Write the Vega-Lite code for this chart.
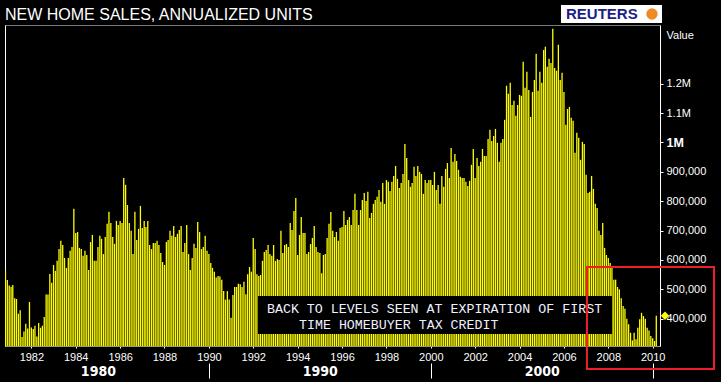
{
"$schema": "https://vega.github.io/schema/vega-lite/v6.json",
"background": "#000000",
"padding": {"left": 5, "top": 4, "right": 5, "bottom": 4},
"width": 655,
"height": 321,
"title": {"text": "NEW HOME SALES, ANNUALIZED UNITS", "anchor": "start", "frame": "group", "offset": -18, "color": "#ffffff", "font": "Liberation Sans", "fontSize": 16, "fontWeight": "normal"},
"config": {"view": {"stroke": "#7a7a7a", "strokeWidth": 1}, "axis": {"grid": false}},
"datasets": {"sales": [
{"date":"1980-11-01","sales":563000},{"date":"1980-12-01","sales":532000},
{"date":"1981-01-01","sales":513000},{"date":"1981-02-01","sales":509000},{"date":"1981-03-01","sales":515000},{"date":"1981-04-01","sales":470000},{"date":"1981-05-01","sales":467000},{"date":"1981-06-01","sales":417000},{"date":"1981-07-01","sales":429000},{"date":"1981-08-01","sales":338000},{"date":"1981-09-01","sales":356000},{"date":"1981-10-01","sales":383000},{"date":"1981-11-01","sales":367000},{"date":"1981-12-01","sales":457000},
{"date":"1982-01-01","sales":370000},{"date":"1982-02-01","sales":365000},{"date":"1982-03-01","sales":376000},{"date":"1982-04-01","sales":339000},{"date":"1982-05-01","sales":385000},{"date":"1982-06-01","sales":369000},{"date":"1982-07-01","sales":376000},{"date":"1982-08-01","sales":406000},{"date":"1982-09-01","sales":482000},{"date":"1982-10-01","sales":482000},{"date":"1982-11-01","sales":552000},{"date":"1982-12-01","sales":522000},
{"date":"1983-01-01","sales":583000},{"date":"1983-02-01","sales":563000},{"date":"1983-03-01","sales":597000},{"date":"1983-04-01","sales":637000},{"date":"1983-05-01","sales":665000},{"date":"1983-06-01","sales":651000},{"date":"1983-07-01","sales":607000},{"date":"1983-08-01","sales":573000},{"date":"1983-09-01","sales":607000},{"date":"1983-10-01","sales":631000},{"date":"1983-11-01","sales":644000},{"date":"1983-12-01","sales":774000},
{"date":"1984-01-01","sales":692000},{"date":"1984-02-01","sales":695000},{"date":"1984-03-01","sales":641000},{"date":"1984-04-01","sales":637000},{"date":"1984-05-01","sales":614000},{"date":"1984-06-01","sales":631000},{"date":"1984-07-01","sales":617000},{"date":"1984-08-01","sales":566000},{"date":"1984-09-01","sales":661000},{"date":"1984-10-01","sales":685000},{"date":"1984-11-01","sales":597000},{"date":"1984-12-01","sales":597000},
{"date":"1985-01-01","sales":644000},{"date":"1985-02-01","sales":682000},{"date":"1985-03-01","sales":672000},{"date":"1985-04-01","sales":620000},{"date":"1985-05-01","sales":678000},{"date":"1985-06-01","sales":723000},{"date":"1985-07-01","sales":764000},{"date":"1985-08-01","sales":726000},{"date":"1985-09-01","sales":678000},{"date":"1985-10-01","sales":655000},{"date":"1985-11-01","sales":733000},{"date":"1985-12-01","sales":719000},
{"date":"1986-01-01","sales":733000},{"date":"1986-02-01","sales":726000},{"date":"1986-03-01","sales":879000},{"date":"1986-04-01","sales":856000},{"date":"1986-05-01","sales":787000},{"date":"1986-06-01","sales":726000},{"date":"1986-07-01","sales":699000},{"date":"1986-08-01","sales":620000},{"date":"1986-09-01","sales":764000},{"date":"1986-10-01","sales":668000},{"date":"1986-11-01","sales":706000},{"date":"1986-12-01","sales":784000},
{"date":"1987-01-01","sales":709000},{"date":"1987-02-01","sales":733000},{"date":"1987-03-01","sales":712000},{"date":"1987-04-01","sales":733000},{"date":"1987-05-01","sales":651000},{"date":"1987-06-01","sales":637000},{"date":"1987-07-01","sales":658000},{"date":"1987-08-01","sales":658000},{"date":"1987-09-01","sales":665000},{"date":"1987-10-01","sales":651000},{"date":"1987-11-01","sales":624000},{"date":"1987-12-01","sales":593000},
{"date":"1988-01-01","sales":583000},{"date":"1988-02-01","sales":661000},{"date":"1988-03-01","sales":668000},{"date":"1988-04-01","sales":699000},{"date":"1988-05-01","sales":682000},{"date":"1988-06-01","sales":716000},{"date":"1988-07-01","sales":678000},{"date":"1988-08-01","sales":689000},{"date":"1988-09-01","sales":702000},{"date":"1988-10-01","sales":716000},{"date":"1988-11-01","sales":627000},{"date":"1988-12-01","sales":658000},
{"date":"1989-01-01","sales":719000},{"date":"1989-02-01","sales":620000},{"date":"1989-03-01","sales":566000},{"date":"1989-04-01","sales":607000},{"date":"1989-05-01","sales":655000},{"date":"1989-06-01","sales":641000},{"date":"1989-07-01","sales":729000},{"date":"1989-08-01","sales":695000},{"date":"1989-09-01","sales":637000},{"date":"1989-10-01","sales":644000},{"date":"1989-11-01","sales":682000},{"date":"1989-12-01","sales":631000},
{"date":"1990-01-01","sales":620000},{"date":"1990-02-01","sales":590000},{"date":"1990-03-01","sales":573000},{"date":"1990-04-01","sales":560000},{"date":"1990-05-01","sales":540000},{"date":"1990-06-01","sales":545000},{"date":"1990-07-01","sales":544000},{"date":"1990-08-01","sales":533000},{"date":"1990-09-01","sales":494000},{"date":"1990-10-01","sales":465000},{"date":"1990-11-01","sales":494000},{"date":"1990-12-01","sales":465000},
{"date":"1991-01-01","sales":403000},{"date":"1991-02-01","sales":481000},{"date":"1991-03-01","sales":508000},{"date":"1991-04-01","sales":508000},{"date":"1991-05-01","sales":519000},{"date":"1991-06-01","sales":517000},{"date":"1991-07-01","sales":508000},{"date":"1991-08-01","sales":526000},{"date":"1991-09-01","sales":483000},{"date":"1991-10-01","sales":551000},{"date":"1991-11-01","sales":576000},{"date":"1991-12-01","sales":560000},
{"date":"1992-01-01","sales":675000},{"date":"1992-02-01","sales":637000},{"date":"1992-03-01","sales":551000},{"date":"1992-04-01","sales":545000},{"date":"1992-05-01","sales":549000},{"date":"1992-06-01","sales":597000},{"date":"1992-07-01","sales":627000},{"date":"1992-08-01","sales":634000},{"date":"1992-09-01","sales":651000},{"date":"1992-10-01","sales":620000},{"date":"1992-11-01","sales":614000},{"date":"1992-12-01","sales":651000},
{"date":"1993-01-01","sales":597000},{"date":"1993-02-01","sales":603000},{"date":"1993-03-01","sales":600000},{"date":"1993-04-01","sales":699000},{"date":"1993-05-01","sales":624000},{"date":"1993-06-01","sales":651000},{"date":"1993-07-01","sales":654000},{"date":"1993-08-01","sales":644000},{"date":"1993-09-01","sales":726000},{"date":"1993-10-01","sales":702000},{"date":"1993-11-01","sales":767000},{"date":"1993-12-01","sales":811000},
{"date":"1994-01-01","sales":617000},{"date":"1994-02-01","sales":685000},{"date":"1994-03-01","sales":746000},{"date":"1994-04-01","sales":692000},{"date":"1994-05-01","sales":692000},{"date":"1994-06-01","sales":620000},{"date":"1994-07-01","sales":627000},{"date":"1994-08-01","sales":654000},{"date":"1994-09-01","sales":675000},{"date":"1994-10-01","sales":716000},{"date":"1994-11-01","sales":644000},{"date":"1994-12-01","sales":627000},
{"date":"1995-01-01","sales":624000},{"date":"1995-02-01","sales":555000},{"date":"1995-03-01","sales":617000},{"date":"1995-04-01","sales":620000},{"date":"1995-05-01","sales":675000},{"date":"1995-06-01","sales":723000},{"date":"1995-07-01","sales":763000},{"date":"1995-08-01","sales":699000},{"date":"1995-09-01","sales":678000},{"date":"1995-10-01","sales":695000},{"date":"1995-11-01","sales":665000},{"date":"1995-12-01","sales":709000},
{"date":"1996-01-01","sales":712000},{"date":"1996-02-01","sales":767000},{"date":"1996-03-01","sales":719000},{"date":"1996-04-01","sales":736000},{"date":"1996-05-01","sales":746000},{"date":"1996-06-01","sales":719000},{"date":"1996-07-01","sales":770000},{"date":"1996-08-01","sales":825000},{"date":"1996-09-01","sales":770000},{"date":"1996-10-01","sales":719000},{"date":"1996-11-01","sales":770000},{"date":"1996-12-01","sales":804000},
{"date":"1997-01-01","sales":828000},{"date":"1997-02-01","sales":801000},{"date":"1997-03-01","sales":832000},{"date":"1997-04-01","sales":743000},{"date":"1997-05-01","sales":760000},{"date":"1997-06-01","sales":791000},{"date":"1997-07-01","sales":804000},{"date":"1997-08-01","sales":815000},{"date":"1997-09-01","sales":838000},{"date":"1997-10-01","sales":798000},{"date":"1997-11-01","sales":862000},{"date":"1997-12-01","sales":791000},
{"date":"1998-01-01","sales":872000},{"date":"1998-02-01","sales":866000},{"date":"1998-03-01","sales":835000},{"date":"1998-04-01","sales":866000},{"date":"1998-05-01","sales":886000},{"date":"1998-06-01","sales":920000},{"date":"1998-07-01","sales":876000},{"date":"1998-08-01","sales":845000},{"date":"1998-09-01","sales":862000},{"date":"1998-10-01","sales":893000},{"date":"1998-11-01","sales":995000},{"date":"1998-12-01","sales":947000},
{"date":"1999-01-01","sales":872000},{"date":"1999-02-01","sales":849000},{"date":"1999-03-01","sales":862000},{"date":"1999-04-01","sales":917000},{"date":"1999-05-01","sales":886000},{"date":"1999-06-01","sales":920000},{"date":"1999-07-01","sales":900000},{"date":"1999-08-01","sales":893000},{"date":"1999-09-01","sales":825000},{"date":"1999-10-01","sales":872000},{"date":"1999-11-01","sales":862000},{"date":"1999-12-01","sales":872000},
{"date":"2000-01-01","sales":872000},{"date":"2000-02-01","sales":855000},{"date":"2000-03-01","sales":900000},{"date":"2000-04-01","sales":838000},{"date":"2000-05-01","sales":855000},{"date":"2000-06-01","sales":791000},{"date":"2000-07-01","sales":886000},{"date":"2000-08-01","sales":849000},{"date":"2000-09-01","sales":910000},{"date":"2000-10-01","sales":930000},{"date":"2000-11-01","sales":879000},{"date":"2000-12-01","sales":981000},
{"date":"2001-01-01","sales":934000},{"date":"2001-02-01","sales":961000},{"date":"2001-03-01","sales":937000},{"date":"2001-04-01","sales":907000},{"date":"2001-05-01","sales":883000},{"date":"2001-06-01","sales":879000},{"date":"2001-07-01","sales":879000},{"date":"2001-08-01","sales":866000},{"date":"2001-09-01","sales":852000},{"date":"2001-10-01","sales":869000},{"date":"2001-11-01","sales":924000},{"date":"2001-12-01","sales":978000},
{"date":"2002-01-01","sales":879000},{"date":"2002-02-01","sales":947000},{"date":"2002-03-01","sales":920000},{"date":"2002-04-01","sales":934000},{"date":"2002-05-01","sales":978000},{"date":"2002-06-01","sales":954000},{"date":"2002-07-01","sales":954000},{"date":"2002-08-01","sales":1012000},{"date":"2002-09-01","sales":1043000},{"date":"2002-10-01","sales":1005000},{"date":"2002-11-01","sales":1022000},{"date":"2002-12-01","sales":1046000},
{"date":"2003-01-01","sales":999000},{"date":"2003-02-01","sales":934000},{"date":"2003-03-01","sales":999000},{"date":"2003-04-01","sales":1012000},{"date":"2003-05-01","sales":1077000},{"date":"2003-06-01","sales":1193000},{"date":"2003-07-01","sales":1166000},{"date":"2003-08-01","sales":1203000},{"date":"2003-09-01","sales":1128000},{"date":"2003-10-01","sales":1142000},{"date":"2003-11-01","sales":1091000},{"date":"2003-12-01","sales":1128000},
{"date":"2004-01-01","sales":1162000},{"date":"2004-02-01","sales":1159000},{"date":"2004-03-01","sales":1275000},{"date":"2004-04-01","sales":1186000},{"date":"2004-05-01","sales":1241000},{"date":"2004-06-01","sales":1179000},{"date":"2004-07-01","sales":1087000},{"date":"2004-08-01","sales":1172000},{"date":"2004-09-01","sales":1213000},{"date":"2004-10-01","sales":1302000},{"date":"2004-11-01","sales":1176000},{"date":"2004-12-01","sales":1241000},
{"date":"2005-01-01","sales":1203000},{"date":"2005-02-01","sales":1315000},{"date":"2005-03-01","sales":1326000},{"date":"2005-04-01","sales":1258000},{"date":"2005-05-01","sales":1285000},{"date":"2005-06-01","sales":1271000},{"date":"2005-07-01","sales":1387000},{"date":"2005-08-01","sales":1254000},{"date":"2005-09-01","sales":1244000},{"date":"2005-10-01","sales":1333000},{"date":"2005-11-01","sales":1213000},{"date":"2005-12-01","sales":1237000},
{"date":"2006-01-01","sales":1172000},{"date":"2006-02-01","sales":1060000},{"date":"2006-03-01","sales":1114000},{"date":"2006-04-01","sales":1121000},{"date":"2006-05-01","sales":1084000},{"date":"2006-06-01","sales":1074000},{"date":"2006-07-01","sales":965000},{"date":"2006-08-01","sales":1033000},{"date":"2006-09-01","sales":1016000},{"date":"2006-10-01","sales":941000},{"date":"2006-11-01","sales":1002000},{"date":"2006-12-01","sales":995000},
{"date":"2007-01-01","sales":890000},{"date":"2007-02-01","sales":828000},{"date":"2007-03-01","sales":832000},{"date":"2007-04-01","sales":886000},{"date":"2007-05-01","sales":842000},{"date":"2007-06-01","sales":791000},{"date":"2007-07-01","sales":777000},{"date":"2007-08-01","sales":699000},{"date":"2007-09-01","sales":685000},{"date":"2007-10-01","sales":726000},{"date":"2007-11-01","sales":641000},{"date":"2007-12-01","sales":617000},
{"date":"2008-01-01","sales":607000},{"date":"2008-02-01","sales":590000},{"date":"2008-03-01","sales":576000},{"date":"2008-04-01","sales":533000},{"date":"2008-05-01","sales":533000},{"date":"2008-06-01","sales":508000},{"date":"2008-07-01","sales":500000},{"date":"2008-08-01","sales":470000},{"date":"2008-09-01","sales":443000},{"date":"2008-10-01","sales":434000},{"date":"2008-11-01","sales":400000},{"date":"2008-12-01","sales":381000},
{"date":"2009-01-01","sales":352000},{"date":"2009-02-01","sales":326000},{"date":"2009-03-01","sales":352000},{"date":"2009-04-01","sales":330000},{"date":"2009-05-01","sales":369000},{"date":"2009-06-01","sales":398000},{"date":"2009-07-01","sales":420000},{"date":"2009-08-01","sales":409000},{"date":"2009-09-01","sales":400000},{"date":"2009-10-01","sales":369000},{"date":"2009-11-01","sales":360000},{"date":"2009-12-01","sales":341000},
{"date":"2010-01-01","sales":333000},{"date":"2010-02-01","sales":324000},{"date":"2010-03-01","sales":410000}
]},
"layer": [
{
"data": {"name": "sales"},
"mark": {"type": "bar", "color": "#ffff00", "width": 1.3, "clip": true},
"encoding": {
"x": {"field": "date", "type": "temporal",
"scale": {"type": "utc", "nice": false, "padding": 0, "domain": [{"year": 1980, "month": 10, "date": 24, "utc": true}, {"year": 2010, "month": 5, "date": 1, "utc": true}]},
"axis": {"orient": "bottom", "title": null, "grid": false, "ticks": true, "tickSize": 2, "tickColor": "#ffffff",
"values": [{"year": 1982, "utc": true}, {"year": 1984, "utc": true}, {"year": 1986, "utc": true}, {"year": 1988, "utc": true}, {"year": 1990, "utc": true}, {"year": 1992, "utc": true}, {"year": 1994, "utc": true}, {"year": 1996, "utc": true}, {"year": 1998, "utc": true}, {"year": 2000, "utc": true}, {"year": 2002, "utc": true}, {"year": 2004, "utc": true}, {"year": 2006, "utc": true}, {"year": 2008, "utc": true}, {"year": 2010, "utc": true}],
"format": "%Y", "domainColor": "#9a9a7a", "labelColor": "#ffffff", "labelFont": "Liberation Sans", "labelFontSize": 11, "labelPadding": 3, "labelFlush": false, "labelOverlap": false, "labelBound": false}},
"y": {"field": "sales", "type": "quantitative",
"scale": {"domain": [307000, 1400000], "zero": false, "nice": false, "padding": 0},
"axis": {"orient": "right", "grid": false, "values": [400000, 500000, 600000, 700000, 800000, 900000, 1000000, 1100000, 1200000],
"labelExpr": "datum.value == 1000000 ? '1M' : (datum.value > 1000000 ? format(datum.value / 1000000, '.1f') + 'M' : format(datum.value, ','))",
"domainColor": "#ffffff", "tickColor": "#ffffff", "tickSize": 3, "labelColor": "#ffffff", "labelFont": "Liberation Sans", "labelFontSize": {"condition": {"test": "datum.value == 1000000", "value": 12.5}, "value": 11},
"labelFontWeight": {"condition": {"test": "datum.value == 1000000", "value": "bold"}, "value": "normal"},
"labelPadding": 3, "title": "Value", "titleAngle": 0, "titleAlign": "left", "titleBaseline": "middle", "titleX": 6, "titleY": 10, "titleColor": "#ffffff", "titleFont": "Liberation Sans", "titleFontSize": 11, "titleFontWeight": "normal"}},
"y2": {"datum": 307000}
}
},
{
"data": {"values": [{}]},
"mark": {"type": "rect", "color": "#000000"},
"encoding": {
"x": {"datum": {"year": 1992, "month": 3, "date": 19, "utc": true}, "type": "temporal",
"scale": {"type": "utc", "nice": false, "padding": 0, "domain": [{"year": 1980, "month": 10, "date": 24, "utc": true}, {"year": 2010, "month": 5, "date": 1, "utc": true}]},
"axis": {"orient": "bottom", "offset": 17, "title": null, "grid": false, "domain": false, "ticks": true, "tickColor": "#ffffff", "tickSize": 15,
"values": [{"year": 1990, "utc": true}, {"year": 2000, "utc": true}, {"year": 2010, "utc": true}],
"labelExpr": "utcFormat(datum.value, '%Y') == '1990' ? '1980' : (utcFormat(datum.value, '%Y') == '2000' ? '1990' : '2000')",
"labelOffset": -111, "labelPadding": -14, "labelColor": "#ffffff", "labelFont": "Liberation Sans Narrow, DejaVu Sans Condensed, Liberation Sans", "labelFontSize": 14, "labelFontWeight": "bold", "labelFlush": false, "labelOverlap": false, "labelBound": false}},
"x2": {"datum": {"year": 2008, "month": 3, "date": 2, "utc": true}},
"y": {"datum": 477245, "type": "quantitative",
"scale": {"domain": [307000, 1400000], "zero": false, "nice": false, "padding": 0},
"axis": {"orient": "left", "title": null, "grid": false, "ticks": false, "labels": false, "domainColor": "#ffffff"}},
"y2": {"datum": 347855}
}
},
{
"data": {"values": [{}]},
"mark": {"type": "text", "align": "left", "baseline": "middle", "font": "Liberation Mono", "fontSize": 13.3, "color": "#eef0ff"},
"encoding": {
"x": {"datum": {"year": 1992, "month": 8, "date": 14, "utc": true}, "type": "temporal", "axis": null},
"y": {"datum": 432000, "type": "quantitative", "axis": null},
"text": {"value": "BACK TO LEVELS SEEN AT EXPIRATION OF FIRST"}
}
},
{
"data": {"values": [{}]},
"mark": {"type": "text", "align": "left", "baseline": "middle", "font": "Liberation Mono", "fontSize": 13.3, "color": "#eef0ff"},
"encoding": {
"x": {"datum": {"year": 1994, "month": 1, "date": 23, "utc": true}, "type": "temporal", "axis": null},
"y": {"datum": 379000, "type": "quantitative", "axis": null},
"text": {"value": "TIME HOMEBUYER TAX CREDIT"}
}
},
{
"data": {"values": [{}]},
"mark": {"type": "rect", "filled": false, "color": "#f01e28", "strokeWidth": 2},
"encoding": {
"x": {"datum": {"year": 2007, "month": 1, "date": 15, "utc": true}, "type": "temporal", "axis": null},
"x2": {"datum": {"year": 2012, "month": 10, "date": 6, "utc": true}},
"y": {"datum": 575990, "type": "quantitative", "axis": null},
"y2": {"datum": 228680}
}
},
{
"data": {"values": [{}]},
"mark": {"type": "rect", "color": "#ffffff"},
"encoding": {
"x": {"datum": {"year": 2005, "month": 11, "date": 13, "utc": true}, "type": "temporal", "axis": null},
"x2": {"datum": {"year": 2010, "month": 6, "date": 3, "utc": true}},
"y": {"datum": 1468100, "type": "quantitative", "axis": null},
"y2": {"datum": 1406800}
}
},
{
"data": {"values": [{}]},
"mark": {"type": "text", "align": "left", "baseline": "middle", "font": "Liberation Sans", "fontSize": 15, "fontWeight": "bold", "color": "#1c1f8a"},
"encoding": {
"x": {"datum": {"year": 2006, "month": 2, "date": 4, "utc": true}, "type": "temporal", "axis": null},
"y": {"datum": 1437455, "type": "quantitative", "axis": null},
"text": {"value": "REUTERS"}
}
},
{
"data": {"values": [{}]},
"mark": {"type": "point", "shape": "circle", "filled": true, "color": "#f08a24", "size": 130, "opacity": 1},
"encoding": {
"x": {"datum": {"year": 2009, "month": 12, "date": 20, "utc": true}, "type": "temporal", "axis": null},
"y": {"datum": 1437455, "type": "quantitative", "axis": null}
}
},
{
"data": {"name": "sales"},
"transform": [{"filter": "utcyear(datum.date) == 2010 && utcmonth(datum.date) == 2"}],
"mark": {"type": "point", "shape": "diamond", "filled": true, "color": "#ffff00", "size": 70, "opacity": 1},
"encoding": {
"x": {"datum": {"year": 2010, "month": 7, "date": 22, "utc": true}, "type": "temporal", "axis": null},
"y": {"field": "sales", "type": "quantitative", "axis": null}
}
}
],
"resolve": {"axis": {"x": "independent", "y": "independent"}}
}
